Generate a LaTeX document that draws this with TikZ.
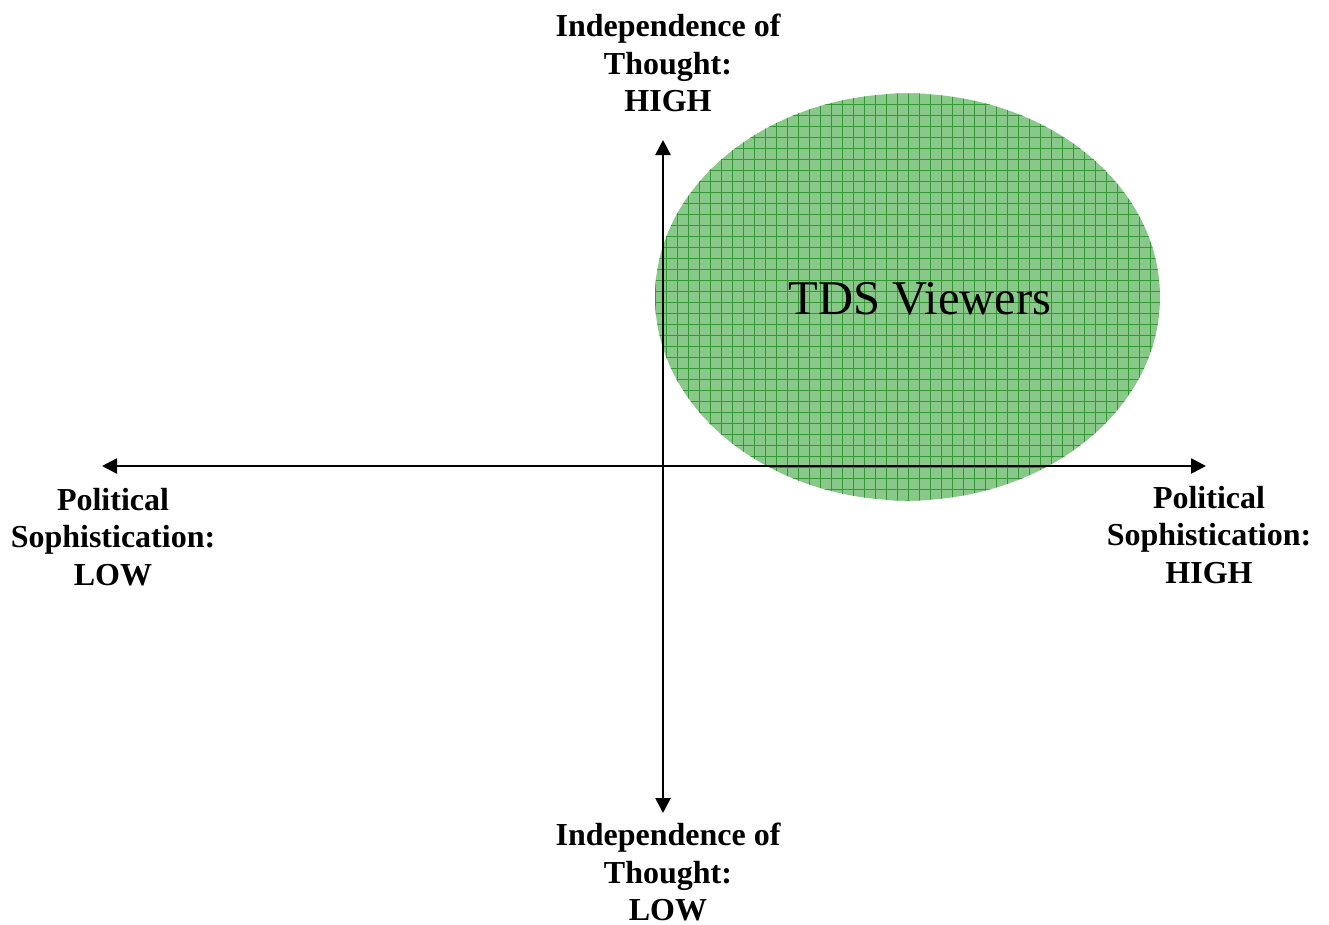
\documentclass[tikz,border=0pt]{standalone}
\usepackage{fontspec}
\setmainfont{Liberation Serif}
\usetikzlibrary{arrows.meta}
\definecolor{blobfill}{RGB}{136,200,136}
\definecolor{blobgrid}{RGB}{52,152,52}
\tikzset{
  axis/.style={line width=2.6pt, {Triangle[length=15pt,width=15pt]}-{Triangle[length=15pt,width=15pt]}},
  axislabel/.style={align=center, font=\bfseries\fontsize{32}{37.5}\selectfont, inner sep=0pt},
  blob/.style={fill=blobfill},
  gridline/.style={blobgrid, line width=1pt}
}
\begin{document}
\begin{tikzpicture}[x=1pt,y=-1pt]
  \useasboundingbox (0,0) rectangle (1329,924);

  % viewer region with grid texture
  \begin{scope}
    \clip (907.5,297) ellipse [x radius=252.5, y radius=203.5];
    \fill[blob] (655,93) rectangle (1160,501);
    \foreach \gx in {655,666,...,1165} \draw[gridline] (\gx,93) -- (\gx,501);
    \foreach \gy in {93,104,...,505} \draw[gridline] (655,\gy) -- (1160,\gy);
  \end{scope}
  \node[font=\fontsize{48.5}{50}\selectfont, inner sep=0pt] (viewers) at (920,299) {TDS Viewers};

  % axes
  \coordinate (top) at (663,140);
  \coordinate (bottom) at (663,813);
  \coordinate (left) at (102,466);
  \coordinate (right) at (1206,466);
  \draw[axis] (bottom) -- (top);
  \draw[axis] (left) -- (right);

  % axis end labels
  \node[axislabel] (ithigh) at (668,63) {Independence of\\Thought:\\HIGH};
  \node[axislabel] (itlow) at (668,872) {Independence of\\Thought:\\LOW};
  \node[axislabel] (pslow) at (113,537) {Political\\Sophistication:\\LOW};
  \node[axislabel] (pshigh) at (1209,535) {Political\\Sophistication:\\HIGH};
\end{tikzpicture}
\end{document}
